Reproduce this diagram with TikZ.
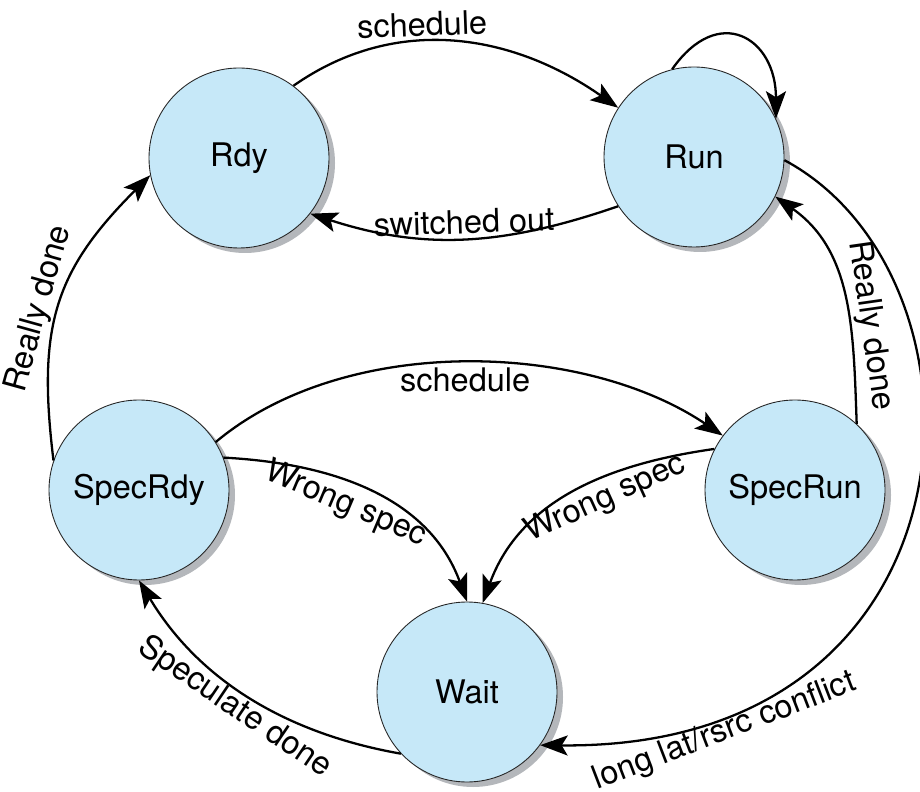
\documentclass[tikz,border=0pt]{standalone}
\usepackage{fontspec}
\setmainfont{TeX Gyre Heros}
\usetikzlibrary{arrows.meta,shadows}
\definecolor{statefill}{HTML}{C6E8F8}
\definecolor{stateshadow}{HTML}{B4B7BB}

\begin{document}
\begin{tikzpicture}[
  font=\fontsize{18.5}{22}\selectfont,
  state/.style={circle, draw=black!85, line width=0.5pt, fill=statefill, minimum size=3.6cm, inner sep=0pt,
    drop shadow={shadow xshift=0.12cm, shadow yshift=-0.1cm, fill=stateshadow, opacity=1}},
  trans/.style={line width=1.3pt, -{Stealth[length=5.5mm,width=4mm,inset=1.2mm]}},
  lbl/.style={sloped, inner sep=2pt}
]
  \useasboundingbox (0,0) rectangle (18.4,15.82);
  \node[state] (Rdy) at (4.78,12.66) {Rdy};
  \node[state] (Run) at (13.88,12.68) {Run};
  \node[state] (SpecRdy) at (2.78,6.02) {SpecRdy};
  \node[state] (SpecRun) at (15.90,6.02) {SpecRun};
  \node[state] (Wait) at (9.34,1.98) {Wait};
  \draw[trans] (Rdy.53) to[out=35,in=145] node[lbl,above,pos=0.4] {schedule} (Run.147);
  \draw[trans] (Run.213) to[out=199,in=-18] node[lbl,above,pos=0.5] {switched out} (Rdy.-38);
  \draw[trans] (Run.104) to[out=55,in=90,looseness=1.8] (Run.25);
  \draw[trans] (Run.-2) .. controls +(4.4,-2.36) and +(9,-0.1) .. (Wait.-36)
    node[lbl,below,pos=0.845,inner sep=0pt] {long lat/rsrc conflict};
  \draw[trans] (SpecRun.47) to[out=92,in=-35] node[lbl,above,pos=0.36] {Really done} (Run.-26);
  \draw[trans] (SpecRdy.161) to[out=97,in=225,looseness=1.15] node[lbl,above,pos=0.46,inner sep=1pt] {Really done} (Rdy.191);
  \draw[trans] (SpecRdy.32) to[out=40,in=146,looseness=0.85] node[lbl,below,pos=0.5] {schedule} (SpecRun.143);
  \draw[trans] (SpecRdy.21) to[out=-3,in=110] node[lbl,below,pos=0.43,inner sep=3pt] {Wrong spec} (Wait.90);
  \draw[trans] (SpecRun.153) to[out=188,in=70] node[lbl,below,pos=0.4] {Wrong spec} (Wait.80);
  \draw[trans] (Wait.223) to[out=170,in=-59,looseness=0.95] node[lbl,below,pos=0.52,inner sep=0pt] {Speculate done} (SpecRdy.270);
\end{tikzpicture}
\end{document}
